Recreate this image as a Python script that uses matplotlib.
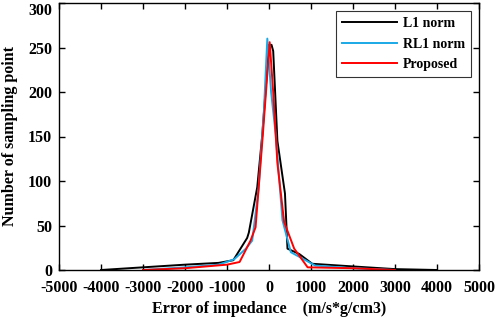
import matplotlib
matplotlib.use('Agg')
import matplotlib.pyplot as plt

plt.rcParams['font.family'] = ['Liberation Serif', 'DejaVu Serif']
plt.rcParams['font.weight'] = 'bold'
plt.rcParams['axes.unicode_minus'] = False

# L1 norm
x_l1 = [-4000, -3000, -2000, -1200, -850, -520, -480, -280, -160, 0, 60, 100, 200, 380, 440, 720, 1030, 2000, 3000, 4000]
y_l1 = [0, 3, 6, 8, 11, 36, 42, 93, 152, 253, 253, 246, 145, 86, 24, 18, 7, 4, 1, 0]
# RL1 norm
x_rl1 = [-3000, -2000, -1200, -830, -550, -400, -250, -120, -40, 50, 160, 320, 520, 1100, 2000, 3000]
y_rl1 = [0, 3, 6, 12, 24, 33, 90, 180, 260, 200, 152, 56, 20, 5, 2, 0]
# Proposed
x_prop = [-3000, -2000, -1000, -700, -440, -320, -150, 16, 100, 200, 360, 600, 920, 2000, 3000]
y_prop = [0, 2, 6, 9, 33, 48, 150, 256, 200, 120, 54, 24, 3, 2, 0]

xticks = list(range(-5000, 5001, 1000))
yticks = list(range(0, 301, 50))

fig = plt.figure(figsize=(4.98, 3.18), dpi=100)
ax = fig.add_axes([59 / 498, 1 - 270 / 318, 420 / 498, 267 / 318])

ax.plot(x_l1, y_l1, color='black', lw=1.4, label='L1 norm')
ax.plot(x_rl1, y_rl1, color='#1BA9E6', lw=1.4, label='RL1 norm')
ax.plot(x_prop, y_prop, color='red', lw=1.4, label='Proposed')

ax.set_xlim(-5000, 5000)
ax.set_ylim(0, 300)
ax.set_xticks(xticks)
ax.set_yticks(yticks)
ax.tick_params(direction='in', top=True, right=True, labelsize=11.5, length=4, width=1)
ax.tick_params(axis='x', pad=7.5)
ax.tick_params(axis='y', pad=5)
for lab in ax.get_xticklabels() + ax.get_yticklabels():
    lab.set_fontweight('bold')
# top label sits below the axes edge, bottom one a touch higher, as in the reference
ylabs = ax.get_yticklabels()
ylabs[-1].set_va('top')
ylabs[0].set_va('center_baseline')
for s in ax.spines.values():
    s.set_linewidth(1)

ax.set_xlabel('Error of impedance    (m/s*g/cm3)', fontsize=11.5, fontweight='bold', labelpad=3)
ax.set_ylabel('Number of sampling point', fontsize=11.5, fontweight='bold', labelpad=7)

leg = ax.legend(loc='upper right', fancybox=False, edgecolor='black', fontsize=10,
                handlelength=4, handletextpad=0.4, borderaxespad=0.6, labelspacing=0.55)
leg.get_frame().set_linewidth(0.8)
for t in leg.get_texts():
    t.set_fontweight('bold')

fig.savefig('out.png', dpi=100)
